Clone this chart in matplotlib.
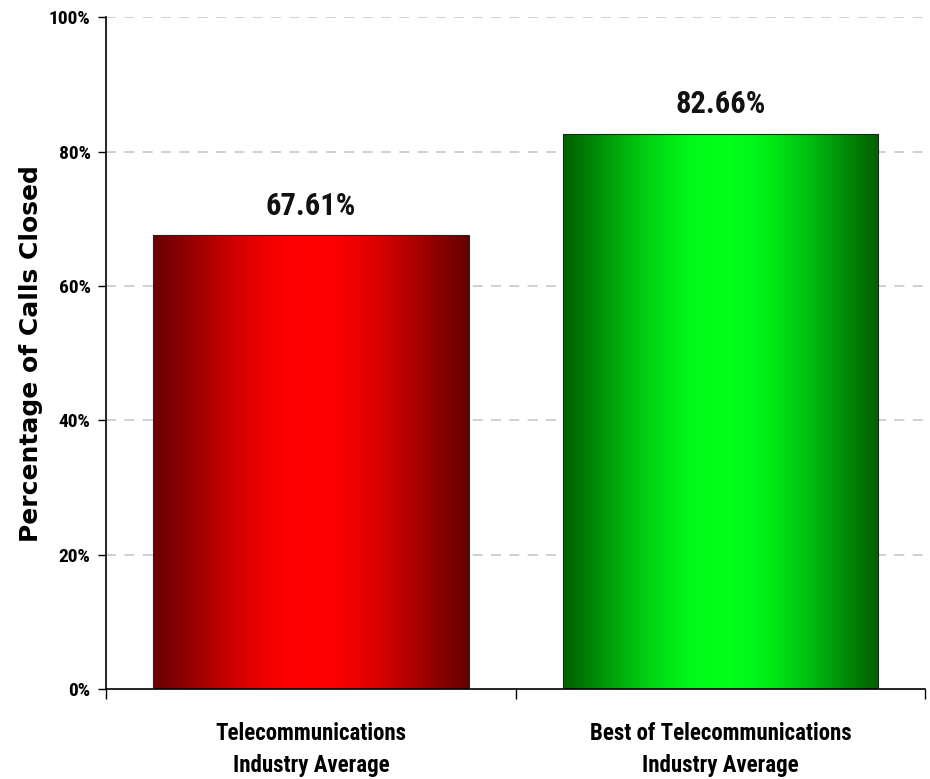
import numpy as np
import matplotlib
matplotlib.use("Agg")
import matplotlib.pyplot as plt
from matplotlib.colors import LinearSegmentedColormap

categories = ["Telecommunications\nIndustry Average",
              "Best of Telecommunications\nIndustry Average"]
values = [67.61, 82.66]
value_labels = ["67.61%", "82.66%"]
edge_colors = ["#6a0000", "#006400"]
mid_colors = ["#ff0000", "#00ff1a"]
yticks = [0, 20, 40, 60, 80, 100]

narrow = ["Roboto Condensed", "DejaVu Sans"]

fig = plt.figure(figsize=(9.3, 7.79), dpi=100)
ax = fig.add_axes([0.114, 0.1155, 0.881, 0.8625])

x = np.arange(len(categories))
width = 0.77
bars = ax.bar(x, values, width=width, color="none", edgecolor="#222222",
              linewidth=0.8, zorder=3)

# horizontal gradient inside each bar: dark edges, bright centre
t = np.linspace(0, 1, 256)
profile = np.sin(np.pi * t) ** 1.2
for b, c0, c1 in zip(bars, edge_colors, mid_colors):
    cmap = LinearSegmentedColormap.from_list("g", [c0, c1])
    x0, w, h = b.get_x(), b.get_width(), b.get_height()
    im = ax.imshow(profile[np.newaxis, :], cmap=cmap, aspect="auto",
                   extent=[x0, x0 + w, 0, h], zorder=2, vmin=0, vmax=1)
    im.set_clip_path(b)

for xi, v, lab in zip(x, values, value_labels):
    ax.text(xi, v + 3.0, lab, ha="center", va="baseline", fontsize=22,
            fontweight="bold", family=narrow, color="#111111")

ax.set_xlim(-0.5, 1.5)
ax.set_ylim(0, 100)
ax.set_yticks(yticks)
ax.set_yticklabels([f"{v}%" for v in yticks], family=narrow,
                   fontweight="bold", fontsize=14)
ax.set_xticks(x)
ax.set_xticklabels(categories, family=narrow, fontweight="bold", fontsize=16.5,
                   linespacing=1.5)
ax.tick_params(axis="x", length=0, pad=24)
ax.set_xticks([-0.5, 0.5, 1.5], minor=True)
ax.tick_params(axis="x", which="minor", length=7, direction="out", width=1)
ax.tick_params(axis="y", length=6, width=1, direction="out", pad=5)

for yv in yticks[1:]:
    ax.axhline(yv, color="#c8c8c8", linestyle=(0, (6, 5)), linewidth=1.2,
               zorder=1)

ax.spines["top"].set_visible(False)
ax.spines["right"].set_visible(False)
ax.spines["left"].set_linewidth(1.2)
ax.spines["bottom"].set_linewidth(1.2)

ax.set_ylabel("Percentage of Calls Closed", fontsize=18, fontweight="bold",
              family="DejaVu Sans", labelpad=4)

fig.savefig("out.png", dpi=100)
